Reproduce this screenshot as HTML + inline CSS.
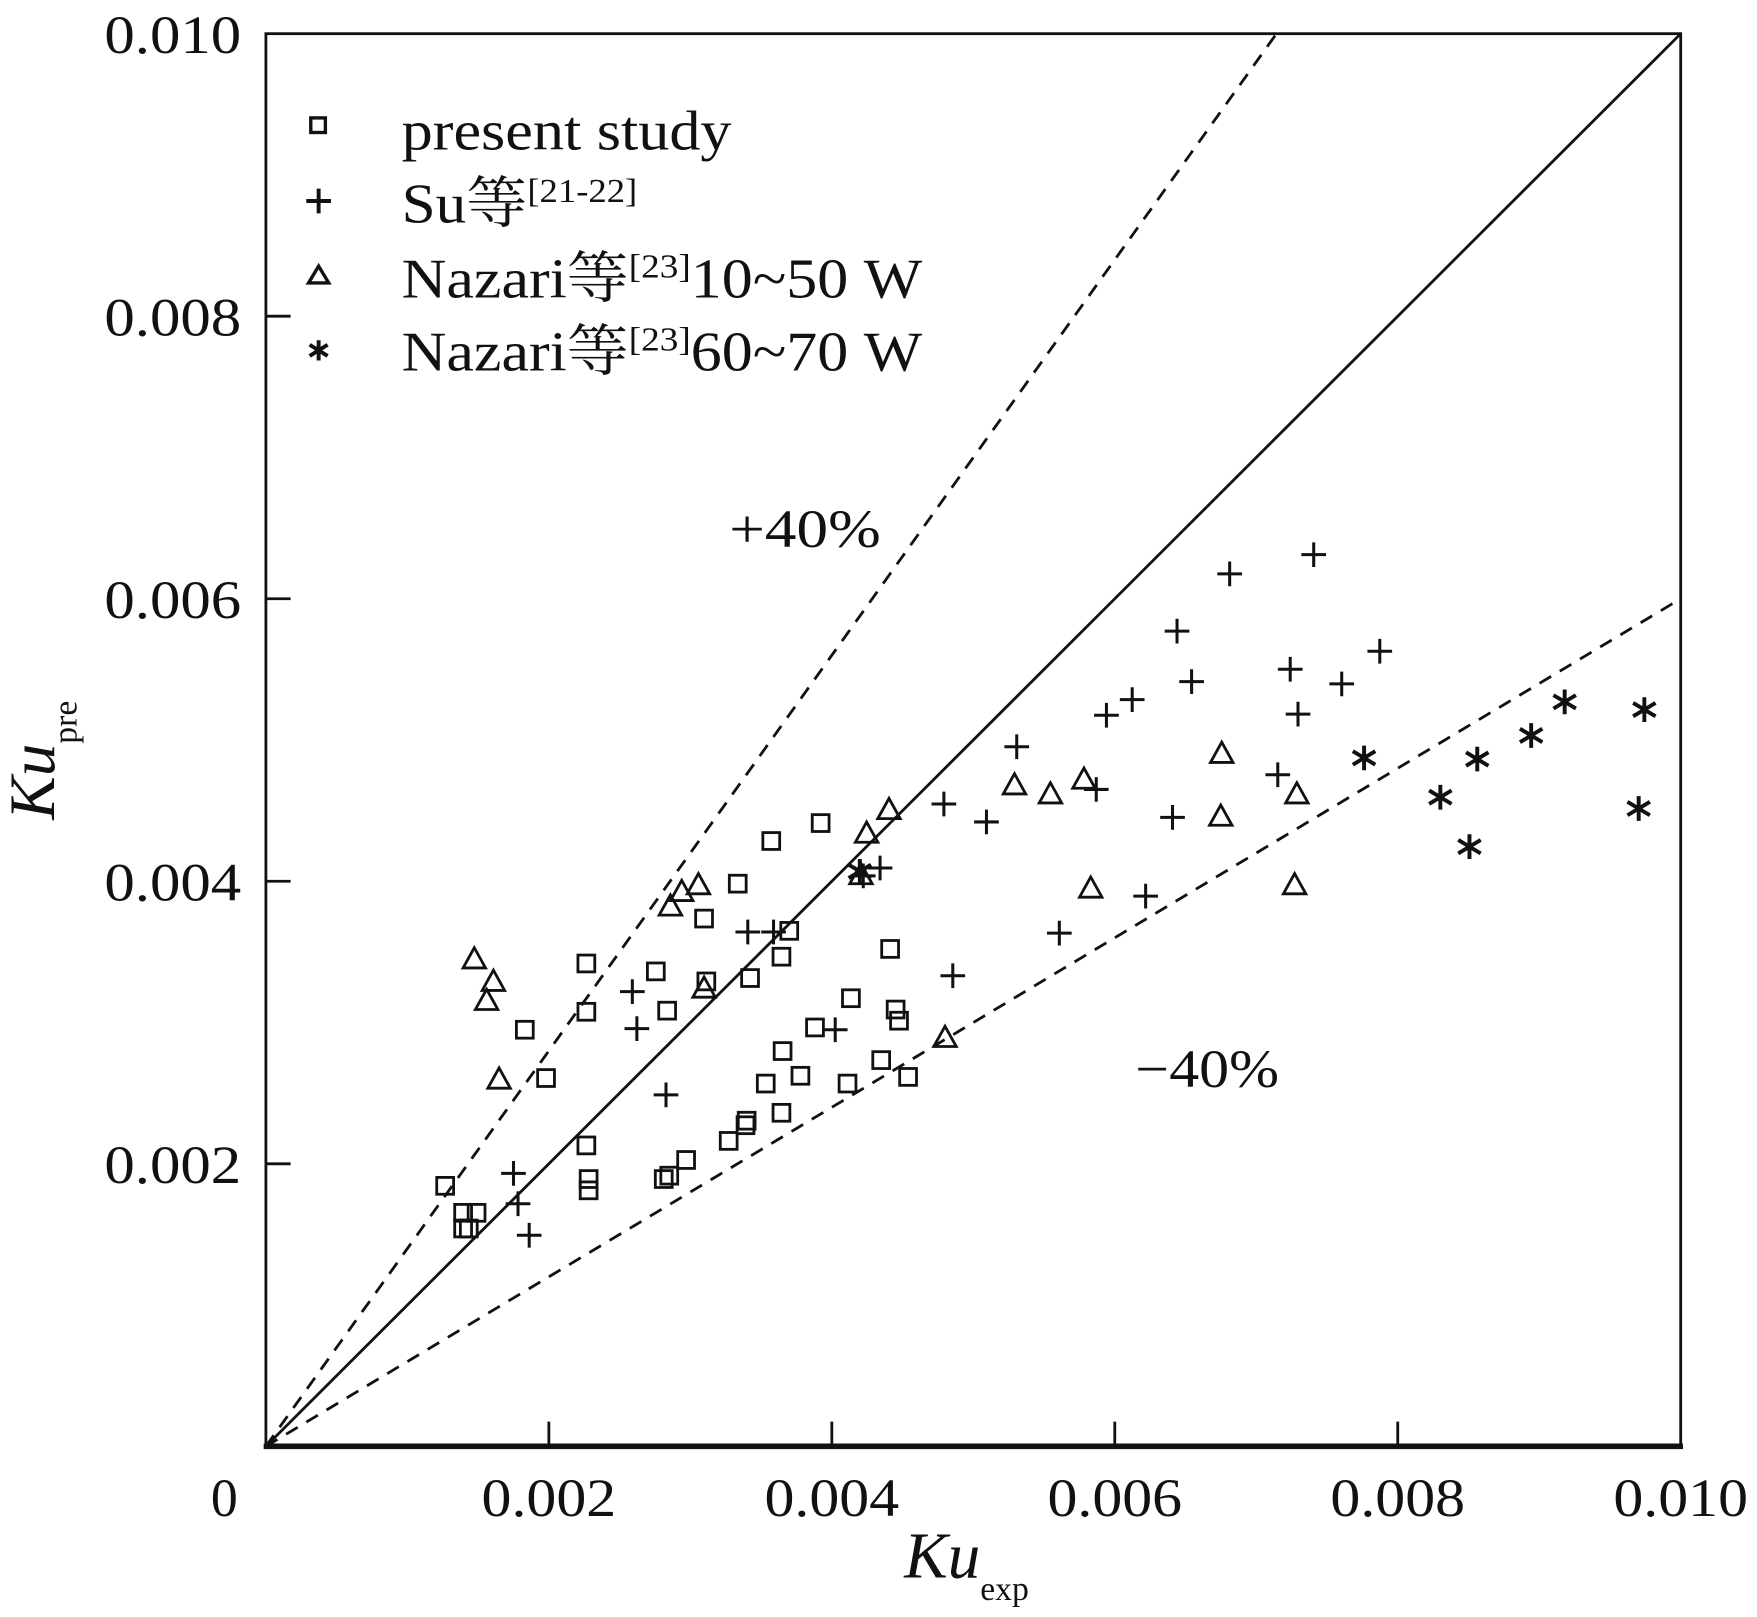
<!DOCTYPE html>
<html><head><meta charset="utf-8"><style>
html,body{margin:0;padding:0;background:#fff;}
svg{display:block;}
text{font-family:"Liberation Serif","Noto Serif CJK SC","Noto Sans CJK SC",serif;fill:#111;}
</style></head><body>
<svg id="chart" width="1757" height="1617" viewBox="0 0 1566 1440" preserveAspectRatio="none" xmlns="http://www.w3.org/2000/svg">
<g id="lines"></g>
<g id="marks"></g>
<rect x="237" y="30" width="1261" height="1258" fill="none" stroke="#111" stroke-width="2.5"/>
<line x1="235" y1="1288" x2="1500" y2="1288" stroke="#111" stroke-width="5"/>
<g id="axes"></g>
<g>
  <rect x="277" y="105" width="13" height="13" fill="none" stroke="#111" stroke-width="3"/>
  <text x="358" y="133" font-size="50" textLength="294" lengthAdjust="spacingAndGlyphs">present study</text>
  <path d="M284 168v22M273 179h22" stroke="#111" stroke-width="3.5"/>
  <text x="358" y="198" font-size="50" textLength="210" lengthAdjust="spacingAndGlyphs">Su等<tspan font-size="30" dy="-18">[21-22]</tspan></text>
  <path d="M284 237l-9 15h18z" fill="none" stroke="#111" stroke-width="3"/>
  <text x="358" y="265" font-size="50" textLength="464" lengthAdjust="spacingAndGlyphs">Nazari等<tspan font-size="30" dy="-18">[23]</tspan><tspan dy="18">10~50 W</tspan></text>
  <g stroke="#111" stroke-width="3.5"><path d="M284 303v18M276 307l16 10M276 317l16-10"/></g>
  <text x="358" y="330" font-size="50" textLength="464" lengthAdjust="spacingAndGlyphs">Nazari等<tspan font-size="30" dy="-18">[23]</tspan><tspan dy="18">60~70 W</tspan></text>
</g>
<text x="650" y="487" font-size="48" textLength="135" lengthAdjust="spacingAndGlyphs">+40%</text>
<text x="1012" y="968" font-size="48" textLength="128" lengthAdjust="spacingAndGlyphs">−40%</text>
<text x="806" y="1405" font-size="58" font-style="italic">Ku<tspan font-style="normal" font-size="30" dy="20">exp</tspan></text>
<text transform="translate(48,730) rotate(-90)" font-size="58" font-style="italic">Ku<tspan font-style="normal" font-size="30" dy="20">pre</tspan></text>
</svg>
<script>
// values in units of 1e-3
const squaresX=[1.267,1.394,1.489,1.394,1.434,1.830,1.980,2.265,2.265,2.265,2.281,2.281,2.756,2.836,2.812,2.851,2.970,3.097,3.113,3.271,3.335,3.390,3.398,3.422,3.533,3.572,3.644,3.652,3.644,3.699,3.778,3.881,3.921,4.111,4.135,4.349,4.412,4.451,4.475,4.539];
const squaresY=[1.844,1.653,1.653,1.542,1.542,2.949,2.607,3.418,3.076,2.130,1.892,1.812,3.362,3.084,1.892,1.916,2.027,3.736,3.291,2.162,3.983,2.273,2.305,3.315,2.568,4.285,3.466,2.798,2.361,3.649,2.623,2.965,4.412,2.568,3.172,2.734,3.521,3.092,3.013,2.615];
const plusX=[1.750,1.782,1.861,2.590,2.622,2.828,3.406,3.588,4.024,4.341,4.222,4.792,4.855,5.093,5.307,5.608,5.869,5.941,6.123,6.218,6.408,6.440,6.543,6.812,7.152,7.240,7.295,7.406,7.604,7.873];
const plusY=[1.932,1.717,1.494,3.219,2.957,2.488,3.641,3.641,2.949,4.094,4.038,4.547,3.331,4.420,4.952,3.633,4.650,5.175,5.286,3.895,4.452,5.771,5.413,6.176,4.754,5.501,5.183,6.312,5.397,5.628];
const triX=[1.473,1.608,1.560,1.648,2.859,2.939,3.057,3.097,4.246,4.404,4.206,4.800,5.291,5.545,5.782,5.830,6.756,6.749,7.287,7.271];
const triY=[3.442,3.283,3.148,2.591,3.816,3.919,3.967,3.235,4.332,4.499,4.038,2.886,4.674,4.610,4.714,3.943,4.897,4.452,4.610,3.967];
const starX=[4.198,7.762,8.301,8.507,8.562,8.943,9.180,9.703,9.743];
const starY=[4.070,4.873,4.595,4.245,4.865,5.032,5.270,4.515,5.215];
const tickVals=[0,2,4,6,8,10];
const xTickLabels=["0","0.002","0.004","0.006","0.008","0.010"];
const yTickLabels=["","0.002","0.004","0.006","0.008","0.010"];
const lineSlopes=[1,1.4,0.6];

const NS="http://www.w3.org/2000/svg";
const X0=237,X1=1498,Y0=1288,Y1=30;
function sx(v){return X0+(X1-X0)*v/10;}
function sy(v){return Y0-(Y0-Y1)*v/10;}
function mk(tag,attrs,parent){const e=document.createElementNS(NS,tag);for(const k in attrs)e.setAttribute(k,attrs[k]);parent.appendChild(e);return e;}
const lines=document.getElementById('lines'),marks=document.getElementById('marks'),axes=document.getElementById('axes');

lineSlopes.forEach((s,i)=>{
  const xe=Math.min(10,10/s),ye=xe*s;
  const l=mk('line',{x1:sx(0),y1:sy(0),x2:sx(xe),y2:sy(ye),stroke:'#111','stroke-width':2.5,'stroke-dasharray':s===1?'none':'12 9'},lines);
  
  
});

tickVals.forEach((v,i)=>{
  if(i>0&&i<5){
    const t=mk('line',{x1:sx(v),y1:Y0,x2:sx(v),y2:Y0-22,stroke:'#111','stroke-width':2.5},axes);
    
    
    const t2=mk('line',{x1:X0,y1:sy(v),x2:X0+22,y2:sy(v),stroke:'#111','stroke-width':2.5},axes);
    
    
  }
  const xl=mk('text',{x:i===0?200:sx(v),y:1350,'font-size':48,'text-anchor':'middle'},axes);
  xl.textContent=xTickLabels[i];
  if(i>0){xl.setAttribute('textLength',120);xl.setAttribute('lengthAdjust','spacingAndGlyphs');}
  
  
  if(yTickLabels[i]){
    const yl=mk('text',{x:215,y:sy(v)+17,'font-size':48,'text-anchor':'end',textLength:122,lengthAdjust:'spacingAndGlyphs'},axes);
    yl.textContent=yTickLabels[i];
    
    
  }
});

squaresX.forEach((x,i)=>{
  const e=mk('rect',{x:sx(x)-7.5,y:sy(squaresY[i])-7.5,width:15,height:15,fill:'none',stroke:'#111','stroke-width':2.5},marks);
  
  
});
plusX.forEach((x,i)=>{
  const cx=sx(x),cy=sy(plusY[i]);
  const e=mk('path',{d:`M${cx-11} ${cy}h22M${cx} ${cy-11}v22`,stroke:'#111','stroke-width':2.7},marks);
  
  
});
triX.forEach((x,i)=>{
  const cx=sx(x),cy=sy(triY[i]);
  const e=mk('path',{d:`M${cx} ${cy-11}L${cx-10} ${cy+7}H${cx+10}Z`,fill:'none',stroke:'#111','stroke-width':2.5},marks);
  
  
});
starX.forEach((x,i)=>{
  const cx=sx(x),cy=sy(starY[i]);
  const e=mk('path',{d:`M${cx} ${cy-11}v22M${cx-10} ${cy-6}l20 12M${cx-10} ${cy+6}l20 -12`,stroke:'#111','stroke-width':3.5},marks);
  
  
});
</script>
</body></html>
